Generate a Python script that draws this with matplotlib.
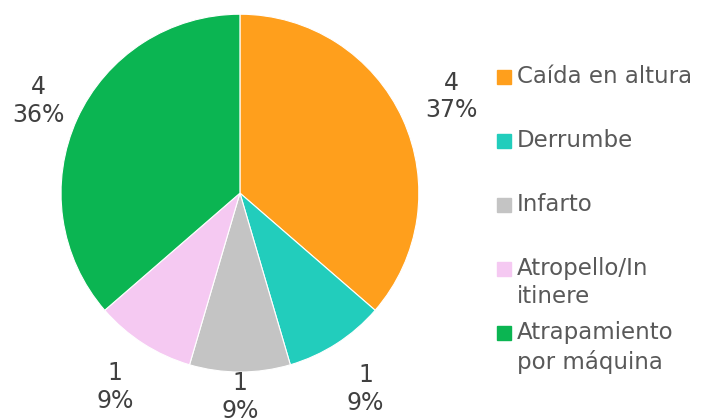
import numpy as np
import matplotlib.pyplot as plt
from matplotlib.patches import Rectangle

plt.rcParams['font.family'] = 'DejaVu Sans'

categories = ['Caída en altura', 'Derrumbe', 'Infarto', 'Atropello/In\nitinere', 'Atrapamiento\npor máquina']
values = [4, 1, 1, 1, 4]
pct_labels = ['37%', '9%', '9%', '9%', '36%']
colors = ['#FF9F1C', '#22CDBC', '#C4C4C4', '#F5C9F2', '#0BB552']

fig = plt.figure(figsize=(7.03, 4.18), dpi=100)
ax = fig.add_axes([0.0868, 0.110, 0.509, 0.856])

wedges, _ = ax.pie(values, colors=colors, startangle=90, counterclock=False,
                   radius=1, wedgeprops=dict(edgecolor='white', linewidth=0.8))
ax.set_xlim(-1, 1)
ax.set_ylim(-1, 1)
ax.set_aspect('equal')

# label distance per slice (in radii)
dist = [1.3, 1.3, 1.14, 1.29, 1.24]
for w, v, p, d in zip(wedges, values, pct_labels, dist):
    ang = np.deg2rad((w.theta1 + w.theta2) / 2)
    ax.text(d * np.cos(ang), d * np.sin(ang), '%d\n%s' % (v, p),
            ha='center', va='center', fontsize=17, color='#404040',
            linespacing=1.2, clip_on=False)

# legend drawn by hand
W, H = 703, 418
for i, (lab, c) in enumerate(zip(categories, colors)):
    y = 77 + 64 * i
    fig.add_artist(Rectangle((497 / W, 1 - (y + 7) / H), 14 / W, 14 / H,
                             transform=fig.transFigure, color=c))
    fig.text(517 / W, 1 - (y - 12) / H, lab, ha='left', va='top',
             fontsize=16.5, color='#595959', linespacing=1.3)

fig.savefig('out.png', dpi=100)
